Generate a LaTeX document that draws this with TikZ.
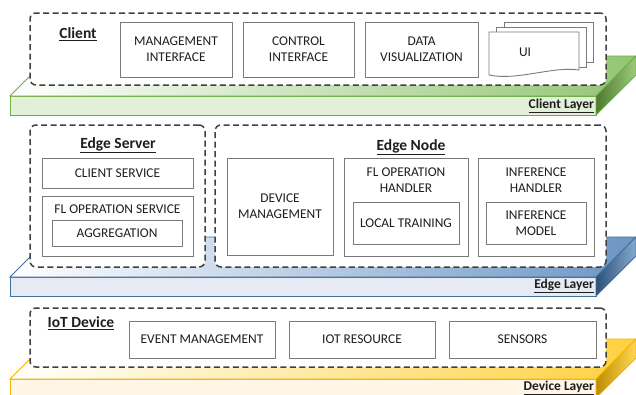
\documentclass[tikz,border=0pt]{standalone}
\usepackage{fontspec}
\setmainfont{Carlito}
\usetikzlibrary{calc}

\definecolor{txt}{HTML}{1E1E1E}
\definecolor{boxline}{HTML}{7A7A7A}
\definecolor{dashline}{HTML}{404040}
% client layer (green)
\definecolor{gBorder}{HTML}{70AD47}
\definecolor{gFront}{HTML}{E2EFD9}
\definecolor{gTop}{HTML}{93C573}
\definecolor{gSideD}{HTML}{4E7A30}
\definecolor{gSideL}{HTML}{9CCB7C}
% edge layer (blue)
\definecolor{bBorder}{HTML}{41719C}
\definecolor{bFront}{HTML}{E6EBF3}
\definecolor{bTop}{HTML}{6C95C4}
\definecolor{bSideD}{HTML}{2E5178}
\definecolor{bSideL}{HTML}{86A9D0}
% device layer (yellow)
\definecolor{yBorder}{HTML}{F2B600}
\definecolor{yFront}{HTML}{FFF6E8}
\definecolor{yTop}{HTML}{FFD140}
\definecolor{ySideD}{HTML}{BE8E00}
\definecolor{ySideL}{HTML}{FFD655}

% one layer slab: #1 = y of the front top edge, then front, top, side dark,
% side light and border colours
\newcommand\drawslab[6]{%
  \fill[#2, draw=#6, line width=0.8pt] (10,#1) rectangle (596,#1+19);
  \shade[left color=white, right color=#3, draw=#6, line width=0.8pt]
    (10,#1) -- (596,#1) -- (636,#1-40) -- (50,#1-40) -- cycle;
  \shade[left color=#4, right color=#5, draw=#6, line width=0.8pt]
    (596,#1) -- (636,#1-40) -- (636,#1-21) -- (596,#1+19) -- cycle;
}

\begin{document}
\begin{tikzpicture}[x=1pt, y=-1pt,
  every node/.style={text=txt, inner sep=0pt, outer sep=0pt},
  ibox/.style={draw=boxline, line width=0.9pt, fill=white, align=center,
    anchor=north west, font=\fontsize{13.4}{16}\selectfont},
  dbox/.style={draw=dashline, line width=1.5pt, dash pattern=on 6pt off 3.5pt,
    rounded corners=6pt, fill=white, anchor=north west},
  head/.style={font=\fontsize{15.5}{18}\selectfont\bfseries},
  ltext/.style={font=\fontsize{13.4}{16}\selectfont, align=center},
  layerlabel/.style={font=\fontsize{13.5}{16}\selectfont\bfseries, anchor=east},
  page/.style={draw=boxline, line width=0.9pt, fill=white}
]
\useasboundingbox (0,0) rectangle (636,394);
\clip (0,0) rectangle (636,394);

% ---------- layer slabs ----------
\drawslab{96}{gFront}{gTop}{gSideD}{gSideL}{gBorder}
\drawslab{277}{bFront}{bTop}{bSideD}{bSideL}{bBorder}
\drawslab{379}{yFront}{yTop}{ySideD}{ySideL}{yBorder}

\node[layerlabel] (clientlayer) at (594,106) {\underline{Client Layer}};
\node[layerlabel] (edgelayer) at (594,286) {\underline{Edge Layer}};
\node[layerlabel] (devicelayer) at (594,388) {\underline{Device Layer}};

% ---------- client ----------
\node[dbox, minimum width=576pt, minimum height=72pt] (client) at (30,13) {};
\node[head] (clienthead) at (78,34) {\underline{Client}};
\node[ibox, minimum width=112pt, minimum height=55pt] (mgmt) at (120,22) {MANAGEMENT\\INTERFACE};
\node[ibox, minimum width=111pt, minimum height=55pt] (ctrl) at (243,22) {CONTROL\\INTERFACE};
\node[ibox, minimum width=113pt, minimum height=55pt] (dataviz) at (365,22) {DATA\\VISUALIZATION};
% stacked UI pages
\draw[page] (504,27) -- (504,22) -- (593,22) -- (593,62) -- (586,62);
\draw[page] (496,32) -- (496,27) -- (586,27) -- (586,67) -- (579,67);
\draw[page] (489,32) -- (579,32) -- (579,70)
  .. controls (552,66) and (518,81) .. (489,75) -- cycle;
\node[ltext] (ui) at (525,52) {UI};

% ---------- edge server ----------
\node[dbox, minimum width=175pt, minimum height=142pt] (server) at (30,125) {};
\node[head] (serverhead) at (118,145) {\underline{Edge Server}};
\node[ibox, minimum width=151pt, minimum height=30pt] (clientsrv) at (42,158) {CLIENT SERVICE};
\node[ibox, minimum width=151pt, minimum height=60pt] (flsrv) at (42,196) {};
\node[ltext] (flsrvtitle) at (117.5,209) {FL OPERATION SERVICE};
\node[ibox, minimum width=130pt, minimum height=26pt] (aggr) at (52,220) {AGGREGATION};

% ---------- edge node ----------
\node[dbox, minimum width=391pt, minimum height=142pt] (edgenode) at (215,125) {};
\node[head] (edgenodehead) at (411,147) {\underline{Edge Node}};
\node[ibox, minimum width=106pt, minimum height=97pt] (devmgmt) at (227,158) {DEVICE\\MANAGEMENT};
\node[ibox, minimum width=124pt, minimum height=98pt] (flhandler) at (344,158) {};
\node[ltext] (flhandlertitle) at (406,180) {FL OPERATION\\HANDLER};
\node[ibox, minimum width=106pt, minimum height=42pt] (localtrain) at (353,202) {LOCAL TRAINING};
\node[ibox, minimum width=116pt, minimum height=98pt] (infhandler) at (478,158) {};
\node[ltext] (infhandlertitle) at (536,180) {INFERENCE\\HANDLER};
\node[ibox, minimum width=100pt, minimum height=42pt] (infmodel) at (486,202) {INFERENCE\\MODEL};

% ---------- IoT device ----------
\node[dbox, minimum width=576pt, minimum height=59pt] (iot) at (30,308) {};
\node[head] (iothead) at (81,323) {\underline{IoT Device}};
\node[ibox, minimum width=146pt, minimum height=37pt] (eventmgmt) at (129,321) {EVENT MANAGEMENT};
\node[ibox, minimum width=146pt, minimum height=37pt] (iotres) at (289,321) {IOT RESOURCE};
\node[ibox, minimum width=147pt, minimum height=37pt] (sensors) at (449,321) {SENSORS};
\end{tikzpicture}
\end{document}
